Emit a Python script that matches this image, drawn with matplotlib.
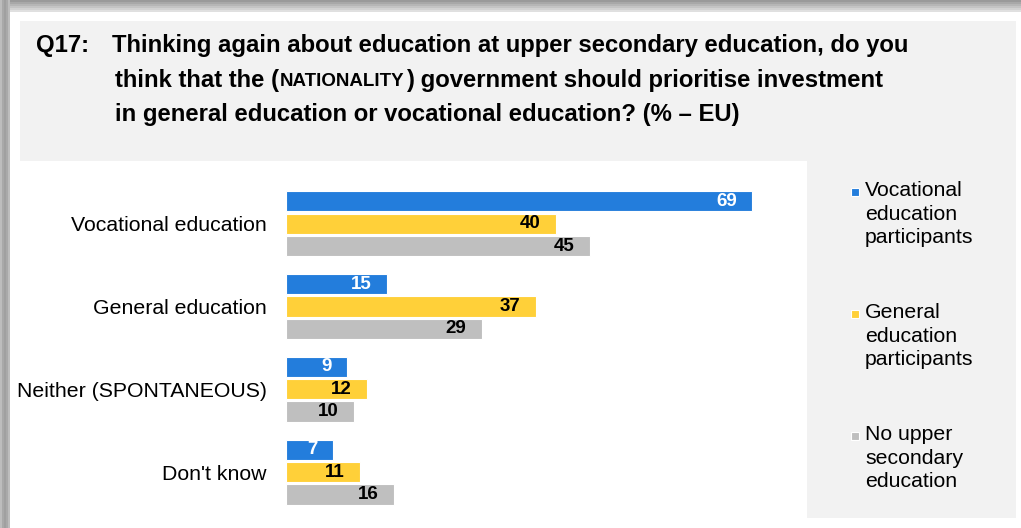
import matplotlib.pyplot as plt
from matplotlib.patches import Rectangle
import numpy as np

plt.rcParams['font.family'] = ['Liberation Sans', 'DejaVu Sans']

# data
categories = ['Vocational education', 'General education', 'Neither (SPONTANEOUS)', "Don't know"]
series_names = ['Vocational\neducation\nparticipants', 'General\neducation\nparticipants', 'No upper\nsecondary\neducation']
vocational = [69, 15, 9, 7]
general = [40, 37, 12, 11]
no_upper = [45, 29, 10, 16]

colors = ['#237ddc', '#ffd039', '#bfbfbf']
label_colors = ['white', 'black', 'black']

W, H = 1021, 528
fig = plt.figure(figsize=(W / 100, H / 100), dpi=100)

def fx(px):
    return px / W

def fy(py):
    return 1 - py / H

def rect(x0, y0, x1, y1, color, z=0):
    fig.patches.append(Rectangle((fx(x0), fy(y1)), fx(x1) - fx(x0), fy(y0) - fy(y1),
                                 transform=fig.transFigure, facecolor=color,
                                 edgecolor='none', zorder=z))

# shadow bands at top and left
shades = ['#9a9a9a', '#a8a8a8', '#b6b6b6', '#c4c4c4', '#d2d2d2', '#e0e0e0']
for i, c in enumerate(shades):
    rect(0, i * 2, W, i * 2 + 2, c)
left_shades = ['#bdbdbd', '#a9a9a9', '#a0a0a0', '#a9a9a9', '#bdbdbd']
for i, c in enumerate(left_shades):
    rect(i * 2, 0, i * 2 + 2, H, c)

# title panel and legend panel
rect(20, 21, 1016, 161, '#f2f2f2')
rect(807, 161, 1016, 518, '#f2f2f2')

# chart axes
ax = fig.add_axes([fx(286), fy(518), fx(807) - fx(286), fy(161) - fy(518)])
ax.set_facecolor('none')
ax.set_xlim(0, 521 / 6.754)
ax.set_ylim(3 + 46 / 82.8, -62.7 / 82.8)

# title
tsize = 17.2
b1, b2, b3 = 52, 86.5, 121
fig.text(fx(36), fy(b1), 'Q17:', fontsize=tsize, fontweight='bold', va='baseline')
fig.text(fx(112), fy(b1), 'Thinking again about education at upper secondary education, do you',
         fontsize=tsize, fontweight='bold', va='baseline')
renderer = fig.canvas.get_renderer()
x_pos = 115
for part, size in [('think that the (', tsize), ('NATIONALITY', 13.5),
                   (') government should prioritise investment', tsize)]:
    t = fig.text(fx(x_pos), fy(b2), part, fontsize=size, fontweight='bold', va='baseline')
    x_pos = t.get_window_extent(renderer).x1 + 1
fig.text(fx(115), fy(b3), 'in general education or vocational education? (% \u2013 EU)',
         fontsize=tsize, fontweight='bold', va='baseline')

y = np.arange(len(categories))
step = 0.27
h = 0.245
for i, vals in enumerate([vocational, general, no_upper]):
    pos = y + (i - 1) * step
    ax.barh(pos, vals, height=h, color=colors[i], edgecolor='white', linewidth=0.8, zorder=3)
    for p, v in zip(pos, vals):
        ax.annotate(str(v), xy=(v, p), xytext=(-11, 0), textcoords='offset points',
                    ha='right', va='center', fontsize=13.5, fontweight='bold',
                    color=label_colors[i], zorder=4)

ax.set_yticks(y)
ax.set_yticklabels(categories, fontsize=15.3)
ax.tick_params(axis='y', length=0, pad=14)
ax.set_xticks([])
for s in ax.spines.values():
    s.set_visible(False)

# legend
leg_y = [181, 303, 425]
for i, name in enumerate(series_names):
    fig.text(fx(865), fy(leg_y[i]), name, fontsize=15.3, va='top', linespacing=1.3)
    mark_y = leg_y[i] + 11
    fig.patches.append(Rectangle((fx(851), fy(mark_y + 4)), fx(8), fy(0) - fy(8),
                                 transform=fig.transFigure, facecolor=colors[i],
                                 edgecolor='white', linewidth=0.8))

fig.savefig('out.png', dpi=100)
